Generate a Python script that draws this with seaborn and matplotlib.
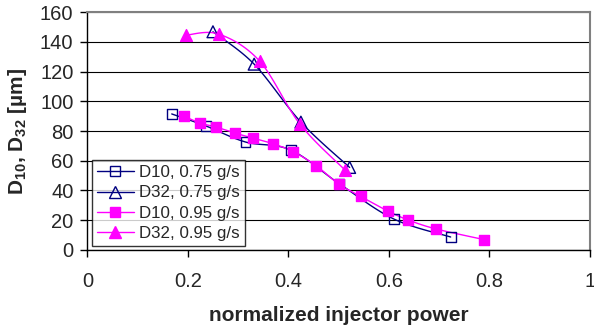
import numpy as np
import pandas as pd
import matplotlib
matplotlib.use("Agg")
import matplotlib.pyplot as plt
import seaborn as sns
from matplotlib.lines import Line2D

# values
d10_075_x = [0.168, 0.236, 0.315, 0.405, 0.502, 0.610, 0.723]
d10_075_y = [91.5, 83.4, 72.6, 67.2, 44.4, 20.8, 8.7]
d32_075_x = [0.250, 0.332, 0.425, 0.522]
d32_075_y = [146.8, 125.0, 86.0, 55.5]
d10_095_x = [0.192, 0.224, 0.256, 0.294, 0.330, 0.369, 0.410, 0.456, 0.500, 0.544, 0.598, 0.638, 0.694, 0.789]
d10_095_y = [90.1, 85.4, 82.7, 78.6, 75.2, 71.5, 66.1, 56.5, 44.4, 36.0, 26.2, 20.2, 14.1, 7.0]
d32_095_x = [0.196, 0.262, 0.343, 0.423, 0.512]
d32_095_y = [144.5, 145.2, 127.0, 84.7, 54.0]

labels = ["D10, 0.75 g/s", "D32, 0.75 g/s", "D10, 0.95 g/s", "D32, 0.95 g/s"]
navy = "#000080"
magenta = "#FF00FF"


def smooth(xs, ys, n=20):
    # Catmull-Rom style smoothing like Excel "smoothed line"
    p = np.column_stack([xs, np.array(ys) / 160.0])
    p = np.vstack([p[0], p, p[-1]])
    out = []
    for i in range(1, len(p) - 2):
        p0, p1, p2, p3 = p[i - 1], p[i], p[i + 1], p[i + 2]
        t = np.linspace(0, 1, n, endpoint=False)[:, None]
        seg = 0.5 * ((2 * p1) + (-p0 + p2) * t + (2 * p0 - 5 * p1 + 4 * p2 - p3) * t ** 2
                     + (-p0 + 3 * p1 - 3 * p2 + p3) * t ** 3)
        out.append(seg)
    out.append(p[-2][None, :])
    out = np.vstack(out)
    return pd.DataFrame({"x": out[:, 0], "y": out[:, 1] * 160.0})


sns.set_style("white")
plt.rcParams["font.family"] = ["Liberation Sans", "DejaVu Sans"]
plt.rcParams["mathtext.fontset"] = "custom"
plt.rcParams["mathtext.rm"] = "Liberation Sans:bold"
plt.rcParams["mathtext.bf"] = "Liberation Sans:bold"
plt.rcParams["mathtext.default"] = "bf"

fig = plt.figure(figsize=(5.94, 3.28), dpi=100)
ax = fig.add_axes([0.147, 0.238, 0.846, 0.725])

series = [
    (d10_075_x, d10_075_y, navy, "s", "none", 7),
    (d32_075_x, d32_075_y, navy, "^", "none", 8.5),
    (d10_095_x, d10_095_y, magenta, "s", magenta, 7),
    (d32_095_x, d32_095_y, magenta, "^", magenta, 8.5),
]

handles = []
for (xs, ys, col, mk, fc, ms), lab in zip(series, labels):
    sm = smooth(xs, ys)
    sns.lineplot(data=sm, x="x", y="y", sort=False, color=col, lw=1.0, ax=ax,
                 estimator=None, legend=False)
    pts = pd.DataFrame({"x": xs, "y": ys})
    sns.scatterplot(data=pts, x="x", y="y", marker=mk, s=ms ** 2,
                    facecolor=fc if fc != "none" else "none", edgecolor=col,
                    linewidth=1.0, ax=ax, legend=False, zorder=3)
    handles.append(Line2D([], [], color=col, lw=1.0, marker=mk, markersize=ms,
                          markerfacecolor=fc, markeredgecolor=col, label=lab))

ax.set_xlim(0, 1)
ax.set_ylim(0, 160)
ax.set_xticks([0, 0.2, 0.4, 0.6, 0.8, 1])
ax.set_xticklabels(["0", "0.2", "0.4", "0.6", "0.8", "1"])
ax.set_yticks(range(0, 161, 20))
ax.yaxis.grid(True, color="black", lw=0.8)
ax.set_axisbelow(True)

for s in ["left", "bottom"]:
    ax.spines[s].set_color("black")
    ax.spines[s].set_linewidth(1.0)
for s in ["top", "right"]:
    ax.spines[s].set_color("#808080")
    ax.spines[s].set_linewidth(1.5)

ax.tick_params(axis="both", direction="out", length=5, width=1, color="black",
               labelsize=14.5, pad=5, bottom=True, left=True)
ax.tick_params(axis="x", pad=11)

ax.set_xlabel("normalized injector power", fontsize=15, fontweight="bold", labelpad=11)
ax.set_ylabel(r"D$_{10}$, D$_{32}$ [µm]", fontsize=15, fontweight="bold", labelpad=8)

leg = ax.legend(handles=handles, loc="lower left", bbox_to_anchor=(0.0, 0.0),
                fontsize=12.2, frameon=True, fancybox=False, handlelength=2.2,
                handletextpad=0.3, borderpad=0.3, labelspacing=0.3,
                borderaxespad=0.25)
leg.get_frame().set_edgecolor("black")
leg.get_frame().set_linewidth(1.0)

fig.savefig("out.png", dpi=100)
